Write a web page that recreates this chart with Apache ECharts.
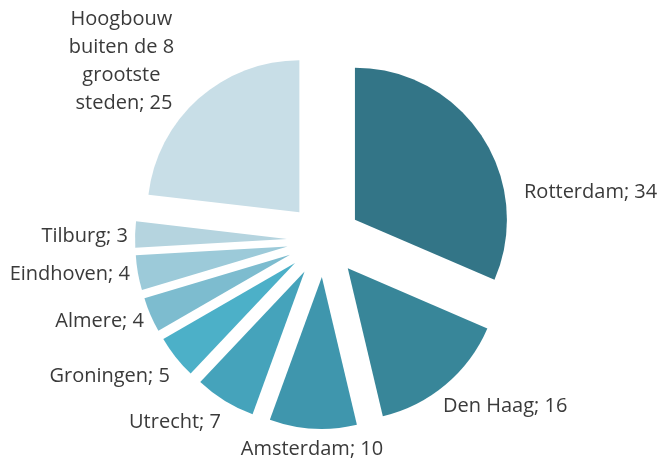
<!DOCTYPE html>
<html>
<head>
<meta charset="utf-8">
<script src="https://cdn.jsdelivr.net/npm/echarts@6/dist/echarts.min.js"></script>
<style>
  html, body { margin: 0; padding: 0; background: #fff; }
  #chart { width: 659px; height: 461px; }
</style>
</head>
<body>
<div id="chart"></div>
<script>
const cities = ['Rotterdam', 'Den Haag', 'Amsterdam', 'Utrecht', 'Groningen', 'Almere', 'Eindhoven', 'Tilburg', 'Hoogbouw buiten de 8 grootste steden']
const counts = [34, 16, 10, 7, 5, 4, 4, 3, 25]
const colors = ['#337587', '#388699', '#3f96ad', '#45a3bb', '#4cb0c8', '#7dbccf', '#9ccad9', '#b5d4df', '#c8dee7']

// label anchor points [x, y, align] (Excel-style outside-end placement)
const labelAnchors = [
  [524, 192, 'left'],
  [443, 406, 'left'],
  [312, 449, 'center'],
  [221, 422, 'right'],
  [170, 376, 'right'],
  [144, 321, 'right'],
  [130, 274, 'right'],
  [128, 236, 'right'],
  [124, 61, 'center']
]

const chart = echarts.init(document.getElementById('chart'))

// data labels, placed like Excel's outside-end labels
const labels = cities.map((name, i) => {
  const a = labelAnchors[i]
  const multi = i === cities.length - 1
  return {
    type: 'text',
    x: a[0],
    y: a[1],
    style: {
      text: name + '; ' + counts[i],
      align: a[2],
      verticalAlign: 'middle',
      fontFamily: 'Open Sans',
      fontSize: 20,
      fill: '#3a3a3a',
      width: multi ? 112 : undefined,
      overflow: multi ? 'break' : 'none',
      lineHeight: multi ? 28 : undefined
    }
  }
})

const option = {
  backgroundColor: '#fff',
  animation: false,
  graphic: labels,
  series: [
    {
      type: 'pie',
      center: [324, 240],
      radius: [0, 152],
      startAngle: 90,
      clockwise: true,
      selectedMode: 'multiple',
      selectedOffset: 37,
      label: { show: false },
      labelLine: { show: false },
      itemStyle: { borderWidth: 0 },
      data: cities.map((name, i) => ({
        name: name,
        value: counts[i],
        selected: true,
        itemStyle: { color: colors[i] }
      }))
    }
  ]
}

chart.setOption(option)
</script>
</body>
</html>
